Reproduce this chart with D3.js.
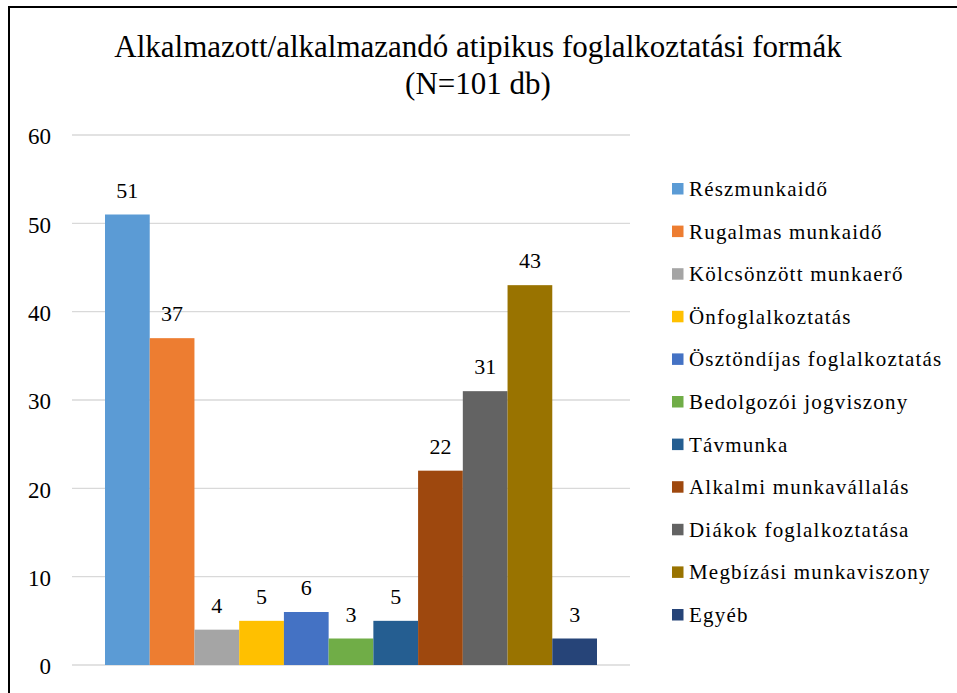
<!DOCTYPE html>
<html>
<head>
<meta charset="utf-8">
<script src="https://cdn.jsdelivr.net/npm/d3@7"></script>
<style>
  body { margin: 0; background: #fff; }
</style>
</head>
<body>
<div id="chart"></div>
<script>
var width = 957,
    height = 693;

var categories = ['Részmunkaidő', 'Rugalmas munkaidő', 'Kölcsönzött munkaerő', 'Önfoglalkoztatás',
    'Ösztöndíjas foglalkoztatás', 'Bedolgozói jogviszony', 'Távmunka', 'Alkalmi munkavállalás',
    'Diákok foglalkoztatása', 'Megbízási munkaviszony', 'Egyéb'];
var values = [51, 37, 4, 5, 6, 3, 5, 22, 31, 43, 3];
var colors = ['#5B9BD5', '#ED7D31', '#A5A5A5', '#FFC000', '#4472C4', '#70AD47',
    '#255E91', '#9E480E', '#636363', '#997300', '#264478'];
var yTicks = [0, 10, 20, 30, 40, 50, 60];

var serif = 'Liberation Serif';

var svg = d3.select('#chart').append('svg')
    .attr('width', width)
    .attr('height', height)
    .style('font-family', serif);

// chart border
svg.append('rect')
    .attr('x', 9)
    .attr('y', 7)
    .attr('width', 960)
    .attr('height', 700)
    .attr('fill', '#fff')
    .attr('stroke', '#000')
    .attr('stroke-width', 2);

svg.append('text')
    .attr('x', 478)
    .attr('y', 57)
    .attr('text-anchor', 'middle')
    .style('font-family', serif)
    .style('font-size', '31px')
    .text('Alkalmazott/alkalmazandó atipikus foglalkoztatási formák');
svg.append('text')
    .attr('x', 478)
    .attr('y', 94)
    .attr('text-anchor', 'middle')
    .style('font-family', serif)
    .style('font-size', '31px')
    .text('(N=101 db)');

var plotLeft = 72, plotRight = 630;

var y = d3.scaleLinear()
    .domain([0, 60])
    .range([665, 135]);

var x = d3.scaleBand()
    .domain(categories)
    .range([105, 597])
    .padding(0);

svg.append('g')
    .selectAll('line')
    .data(yTicks)
    .enter()
    .append('line')
    .attr('x1', plotLeft)
    .attr('x2', plotRight)
    .attr('y1', function(d) { return y(d); })
    .attr('y2', function(d) { return y(d); })
    .attr('stroke', '#d9d9d9')
    .attr('stroke-width', 1.3);

var yAxis = svg.append('g')
    .attr('transform', 'translate(' + 51 + ',0)')
    .call(d3.axisLeft(y).tickValues(yTicks).tickSize(0).tickPadding(0));
yAxis.select('.domain').remove();
yAxis.selectAll('text')
    .attr('dy', '0.38em')
    .style('font-family', serif)
    .style('font-size', '23px')
    .attr('fill', '#000');

svg.append('g')
    .selectAll('rect')
    .data(values)
    .enter()
    .append('rect')
    .attr('x', function(d, i) { return x(categories[i]); })
    .attr('y', function(d) { return y(d); })
    .attr('width', x.bandwidth())
    .attr('height', function(d) { return y(0) - y(d); })
    .attr('fill', function(d, i) { return colors[i]; });

svg.append('g')
    .selectAll('text')
    .data(values)
    .enter()
    .append('text')
    .attr('x', function(d, i) { return x(categories[i]) + x.bandwidth() / 2; })
    .attr('y', function(d) { return y(d) - 17; })
    .attr('text-anchor', 'middle')
    .style('font-family', serif)
    .style('font-size', '22px')
    .text(function(d) { return d; });

var legend = svg.append('g')
    .selectAll('g')
    .data(categories)
    .enter()
    .append('g')
    .attr('transform', function(d, i) { return 'translate(672,' + (189 + i * 42.6) + ')'; });

legend.append('rect')
    .attr('x', 0)
    .attr('y', -6)
    .attr('width', 11.5)
    .attr('height', 11.5)
    .attr('fill', function(d, i) { return colors[i]; });

legend.append('text')
    .attr('x', 17)
    .attr('y', 7)
    .style('font-family', serif)
    .style('font-size', '21px')
    .style('letter-spacing', '1.2px')
    .text(function(d) { return d; });
</script>
</body>
</html>
